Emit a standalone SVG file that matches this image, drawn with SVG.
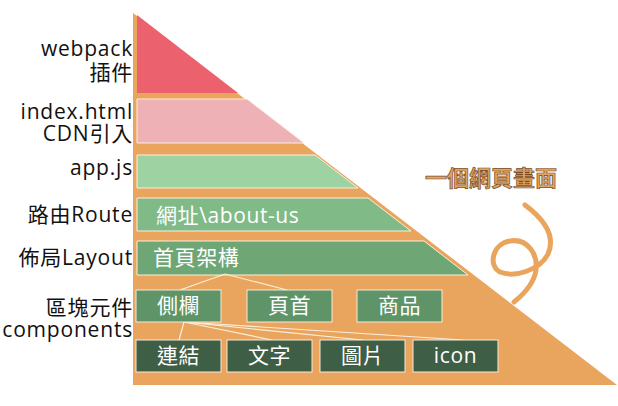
<svg xmlns="http://www.w3.org/2000/svg" width="618" height="406" viewBox="0 0 618 406">
<style>
.lbl{font-family:"Open Sans","Noto Sans CJK TC",sans-serif;font-size:21px;fill:#111;text-anchor:end;letter-spacing:0.8px}
.in{font-family:"Open Sans","Noto Sans CJK TC",sans-serif;font-size:21px;fill:#fff;letter-spacing:0.6px}
.bx{font-family:"Open Sans","Noto Sans CJK TC",sans-serif;font-size:21px;fill:#fff;text-anchor:middle;letter-spacing:0.6px}
.layer{stroke:#fbeedc;stroke-width:1}
.b1{fill:#5e9468;stroke:#f6ead6;stroke-width:1}
.b2{fill:#3e5e46;stroke:#f6ead6;stroke-width:1}
.con{stroke:#fbeedc;stroke-width:1.2;fill:none}
</style>
<rect width="618" height="406" fill="#fff"/>
<g id="curl"><path d="M525,205 C545,220 556,236 548,254 C540,270 515,278 500,272 C488,266 492,244 510,241 C528,238 538,255 536,270 C534,284 524,294 514,302" fill="none" stroke="#e9a55e" stroke-width="5" stroke-linecap="round"/></g>
<g id="base"><polygon points="133,13 617,385 133,385" fill="#e9a55e"/></g>
<g id="title"><text x="425" y="186" font-family="'Noto Sans CJK TC',sans-serif" font-size="22" font-weight="bold" fill="#e3a462" stroke="#7a4a22" stroke-width="0.7">一個網頁畫面</text></g>
<g id="webpack"><polygon points="137,15 238,93 137,93" fill="#eb616d"/></g>
<g id="index"><polygon class="layer" points="137,99 247,99 304,143 137,143" fill="#edb1b6"/></g>
<g id="app"><polygon class="layer" points="137,155 315,155 358,188 137,188" fill="#9ed2a2"/></g>
<g id="route"><polygon class="layer" points="137,198 368,198 411,231 137,231" fill="#80ba87"/><text class="in" x="156" y="223">網址\about-us</text></g>
<g id="layout"><polygon class="layer" points="137,241 424,241 468,275 137,275" fill="#6ea676"/><text class="in" x="153" y="265">首頁架構</text></g>
<g id="connectors">
<line class="con" x1="225" y1="274" x2="180" y2="290"/>
<line class="con" x1="225" y1="274" x2="287" y2="290"/>
<line class="con" x1="184" y1="322" x2="179" y2="340"/>
<line class="con" x1="184" y1="322" x2="272" y2="340"/>
<line class="con" x1="184" y1="322" x2="363" y2="340"/>
<line class="con" x1="184" y1="322" x2="463" y2="340"/>
</g>
<g id="sidebar"><rect class="b1" x="136" y="290" width="85" height="32"/><text class="bx" x="178.5" y="313">側欄</text></g>
<g id="header"><rect class="b1" x="247" y="290" width="85" height="32"/><text class="bx" x="289.5" y="313">頁首</text></g>
<g id="product"><rect class="b1" x="357" y="290" width="85" height="32"/><text class="bx" x="399.5" y="313">商品</text></g>
<g id="link"><rect class="b2" x="136" y="340" width="85" height="32"/><text class="bx" x="178.5" y="363">連結</text></g>
<g id="textnode"><rect class="b2" x="227" y="340" width="85" height="32"/><text class="bx" x="269.5" y="363">文字</text></g>
<g id="image"><rect class="b2" x="320" y="340" width="85" height="32"/><text class="bx" x="362.5" y="363">圖片</text></g>
<g id="icon"><rect class="b2" x="413" y="340" width="85" height="32"/><text class="bx" x="455.5" y="363">icon</text></g>
<g id="labels">
<text class="lbl" x="133" y="56">webpack</text>
<text class="lbl" x="133" y="80">插件</text>
<text class="lbl" x="133" y="119">index.html</text>
<text class="lbl" x="133" y="141">CDN引入</text>
<text class="lbl" x="133" y="175">app.js</text>
<text class="lbl" x="133" y="222">路由Route</text>
<text class="lbl" x="133" y="265">佈局Layout</text>
<text class="lbl" x="133" y="315">區塊元件</text>
<text class="lbl" x="133" y="337">components</text>
</g>
</svg>
